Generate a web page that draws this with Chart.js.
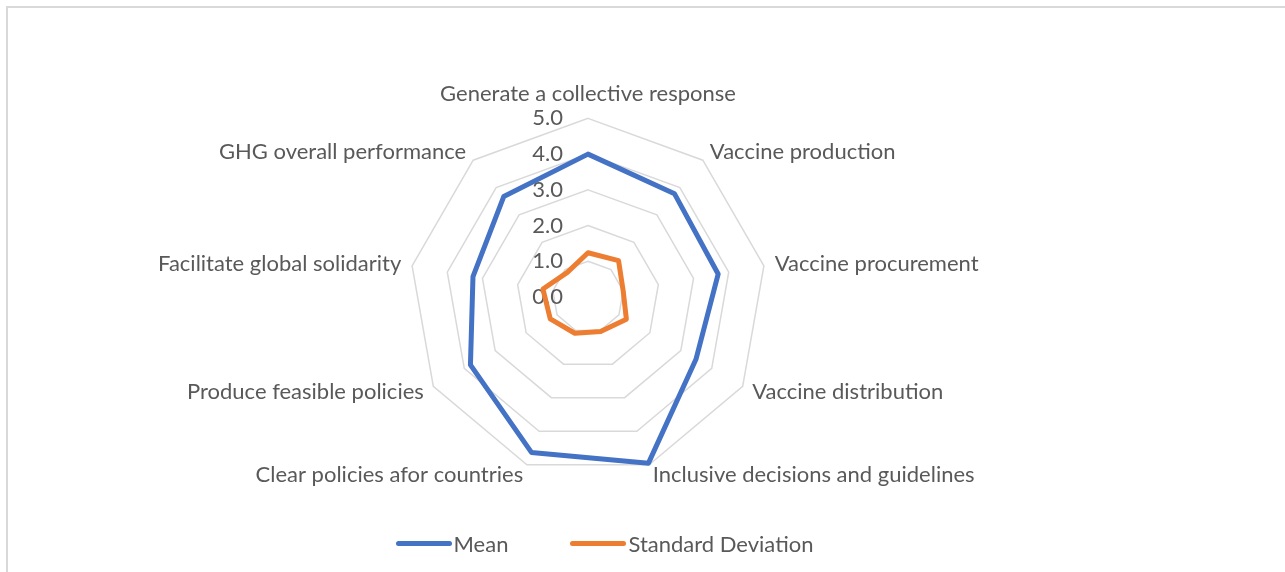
<!DOCTYPE html>
<html lang="en">
<head>
    <meta charset="UTF-8">
    <title>Global health governance ratings</title>
    <script src="https://cdn.jsdelivr.net/npm/chart.js"></script>
    <style>
        body {
            margin: 0;
            background: #ffffff;
            font-family: Lato, sans-serif;
            overflow: hidden;
        }
        .frame {
            position: absolute;
            left: 6px;
            top: 6px;
            width: 1400px;
            height: 700px;
            border: 2px solid #d9d9d9;
        }
        .chart-box {
            position: absolute;
            left: 0;
            top: 0;
            width: 1285px;
            height: 572px;
        }
        .legend {
            position: absolute;
            left: 0;
            top: 530px;
            width: 1209px;
            display: flex;
            justify-content: center;
            align-items: center;
            font-size: 22px;
            color: #595959;
        }
        .legend-item { display: flex; align-items: center; }
        .legend-item + .legend-item { margin-left: 62px; }
        .legend-line {
            width: 56px;
            height: 5px;
            border-radius: 3px;
            margin-right: 2px;
        }
    </style>
</head>
<body>
    <div class="frame"></div>
    <div class="chart-box"><canvas id="radar"></canvas></div>
    <div class="legend" id="legend"></div>

    <script>
        const categories = [
            'Generate a collective response',
            'Vaccine production',
            'Vaccine procurement',
            'Vaccine distribution',
            'Inclusive decisions and guidelines',
            'Clear policies afor countries',
            'Produce feasible policies',
            'Facilitate global solidarity',
            'GHG overall performance'
        ];
        const meanValues = [4.0, 3.77, 3.7, 3.49, 4.95, 4.63, 3.8, 3.27, 3.67];
        const sdValues = [1.24, 1.33, 1.0, 1.24, 1.03, 1.08, 1.22, 1.28, 0.9];
        const tickValues = [0, 1, 2, 3, 4, 5];

        const textColor = '#595959';
        const labelGap = 11;

        // Excel centres the side labels on their spoke, Chart.js hangs them above/below
        const centerSideLabels = {
            id: 'centerSideLabels',
            afterLayout(chart) {
                const s = chart.scales.r;
                (s._pointLabelItems || []).forEach((item, i) => {
                    if (i === 0) return;
                    const h = item.bottom - item.top;
                    const pos = s.getPointPosition(i, s.drawingArea + labelGap);
                    const shift = pos.y - h / 2 - item.y;
                    item.y += shift;
                    item.top += shift;
                    item.bottom += shift;
                });
            }
        };

        // tick labels sit left of the vertical axis, including 0.0 at the centre
        const axisLabels = {
            id: 'axisLabels',
            beforeDatasetsDraw(chart) {
                const s = chart.scales.r;
                const ctx = chart.ctx;
                ctx.save();
                ctx.font = '22px Lato';
                ctx.fillStyle = textColor;
                ctx.textAlign = 'right';
                ctx.textBaseline = 'middle';
                tickValues.forEach(v => {
                    const d = s.getDistanceFromCenterForValue(v);
                    ctx.fillText(v.toFixed(1), s.xCenter - 25, s.yCenter - d);
                });
                ctx.restore();
            }
        };

        const chart = new Chart(document.getElementById('radar'), {
            type: 'radar',
            data: {
                labels: categories,
                datasets: [
                    {
                        label: 'Mean',
                        data: meanValues,
                        borderColor: '#4472c4',
                        backgroundColor: '#4472c4',
                        borderWidth: 5,
                        borderJoinStyle: 'round',
                        pointRadius: 0,
                        fill: false
                    },
                    {
                        label: 'Standard Deviation',
                        data: sdValues,
                        borderColor: '#ed7d31',
                        backgroundColor: '#ed7d31',
                        borderWidth: 5,
                        borderJoinStyle: 'round',
                        pointRadius: 0,
                        fill: false
                    }
                ]
            },
            options: {
                responsive: true,
                maintainAspectRatio: false,
                animation: false,
                layout: { padding: { top: 75, bottom: 65, left: 0, right: 109 } },
                plugins: {
                    legend: { display: false },
                    tooltip: { enabled: false }
                },
                scales: {
                    r: {
                        min: 0,
                        max: 5,
                        ticks: { stepSize: 1, display: false },
                        grid: { color: '#d9d9d9', lineWidth: 1.5 },
                        angleLines: { display: false },
                        pointLabels: {
                            color: textColor,
                            padding: labelGap,
                            font: { family: 'Lato', size: 22 }
                        }
                    }
                }
            },
            plugins: [centerSideLabels, axisLabels]
        });

        // legend built from the datasets
        const legend = document.getElementById('legend');
        chart.data.datasets.forEach(ds => {
            const item = document.createElement('div');
            item.className = 'legend-item';
            const line = document.createElement('span');
            line.className = 'legend-line';
            line.style.background = ds.borderColor;
            const txt = document.createElement('span');
            txt.textContent = ds.label;
            item.appendChild(line);
            item.appendChild(txt);
            legend.appendChild(item);
        });
    </script>
</body>
</html>
